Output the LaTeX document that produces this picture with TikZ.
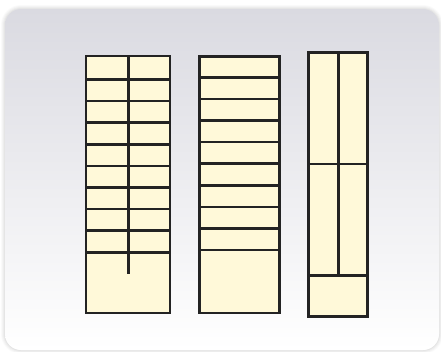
\documentclass[tikz,border=0pt]{standalone}
\definecolor{cream}{RGB}{255,249,217}
\definecolor{edge}{RGB}{35,35,35}
\definecolor{bgtop}{RGB}{218,218,225}
\begin{document}
\begin{tikzpicture}[x=1pt,y=-1pt,
  panel/.style={draw=edge,line width=2.7pt,fill=cream},
  rule/.style={draw=edge,line width=2.7pt}]
\useasboundingbox (0,0) rectangle (441,351);
% background card
\foreach \w/\o in {8/0.04,6/0.05,4/0.06,2/0.08}{
  \draw[line width=\w pt,gray,opacity=\o,rounded corners=16pt] (5,9) rectangle (439,350);
}
\shade[top color=bgtop,bottom color=white,rounded corners=16pt] (5,9) rectangle (439,350);
% column 1
\draw[panel] (86,56) rectangle (170,313);
\foreach \k in {0,...,8}{
  \draw[rule] (86,79.5+21.6*\k) -- (170,79.5+21.6*\k);
}
\draw[rule] (128.3,56) -- (128.3,273.5);
% column 2
\draw[panel] (199.3,56.5) rectangle (279.3,313);
\foreach \k in {0,...,8}{
  \draw[rule] (199.3,77.3+21.6*\k) -- (279.3,77.3+21.6*\k);
}
% column 3
\draw[panel] (308.3,52.3) rectangle (367.7,316.5);
\draw[rule] (308.3,164) -- (367.7,164);
\draw[rule] (308.3,275.3) -- (367.7,275.3);
\draw[rule] (338.3,52.3) -- (338.3,275.3);
\end{tikzpicture}
\end{document}
